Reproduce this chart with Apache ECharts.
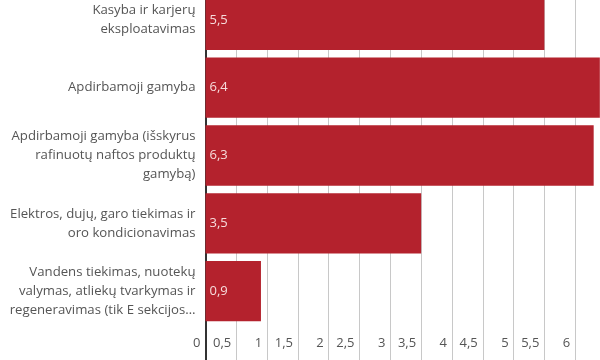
<!DOCTYPE html>
<html>
<head>
<meta charset="utf-8">
<script src="https://cdn.jsdelivr.net/npm/echarts@6/dist/echarts.min.js"></script>
<style>html,body{margin:0;padding:0;background:#fff;overflow:hidden;width:600px;height:360px;position:relative}#c{position:absolute;left:0;top:-14px;width:606px;height:374px}</style>
</head>
<body>
<div id="c"></div>
<script>
var categories = [
  "Kasyba ir karjerų\neksploatavimas",
  "Apdirbamoji gamyba",
  "Apdirbamoji gamyba (išskyrus\nrafinuotų naftos produktų\ngamybą)",
  "Elektros, dujų, garo tiekimas ir\noro kondicionavimas",
  "Vandens tiekimas, nuotekų\nvalymas, atliekų tvarkymas ir\nregeneravimas (tik E sekcijos…"
];
var values = [5.5, 6.4, 6.3, 3.5, 0.9];
var xMin = 0, xMax = 6.5, xStep = 0.5;

function fmt(v) { return String(v).replace('.', ','); }

var chart = echarts.init(document.getElementById('c'), null, {renderer: 'canvas'});
chart.setOption({
  animation: false,
  backgroundColor: '#fff',
  textStyle: {fontFamily: 'Open Sans'},
  grid: {left: 205.5, right: 0, top: 0, bottom: 35, containLabel: false},
  xAxis: [{
    type: 'value', min: xMin, max: xMax, interval: xStep, position: 'bottom',
    axisLine: {show: false},
    axisTick: {show: true, length: 36, lineStyle: {color: '#c8c8c8', width: 1}},
    splitLine: {show: true, lineStyle: {color: '#c8c8c8', width: 1}},
    axisLabel: {
      show: true, margin: 12, align: 'right', padding: [0, 5, 0, 0],
      color: '#555', fontSize: 13, fontFamily: 'Open Sans',
      showMaxLabel: false,
      formatter: function (v) { return v >= xMax ? '' : fmt(v); }
    }
  }, {
    type: 'value', min: xMin, max: xMax, interval: xMax, position: 'bottom',
    axisLine: {show: false},
    axisTick: {show: true, length: 36, lineStyle: {color: '#333', width: 2}},
    splitLine: {show: false},
    axisLabel: {show: false}
  }],
  yAxis: {
    type: 'category', data: categories, inverse: true,
    axisLine: {show: true, lineStyle: {color: '#333', width: 2}},
    axisTick: {show: false},
    splitLine: {show: false},
    axisLabel: {
      margin: 10, color: '#555', fontSize: 13.2, lineHeight: 19,
      fontFamily: 'Open Sans', align: 'right'
    }
  },
  series: [{
    type: 'bar', data: values, xAxisIndex: 0,
    barCategoryGap: '11%',
    itemStyle: {color: '#b4222d'},
    label: {
      show: true, position: 'insideLeft', distance: 4,
      color: '#f7dcdc', fontSize: 13, fontFamily: 'Open Sans',
      formatter: function (p) { return fmt(p.value); }
    }
  }]
});
</script>
</body>
</html>
